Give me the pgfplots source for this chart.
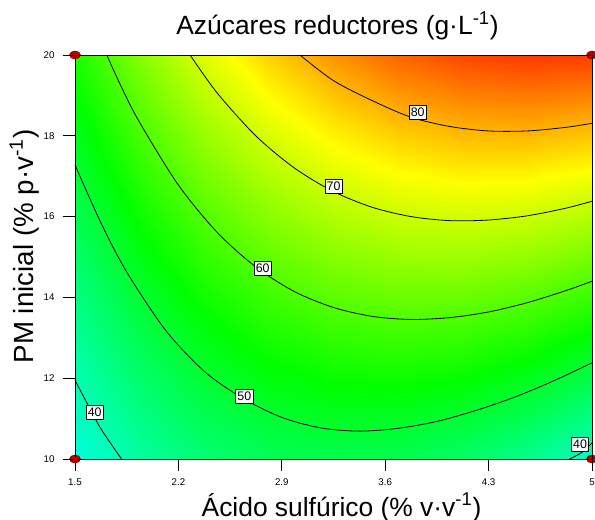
\documentclass[border=0pt]{standalone}
\usepackage{pgfplots}
\pgfplotsset{compat=1.18}
\usepackage{pgfplotstable}
\usepackage{fontspec}
\setmainfont{Liberation Sans}

\tikzset{lbl/.style={draw=black, fill=white, line width=0.5pt, inner xsep=1.3pt, inner ysep=2pt, font=\fontsize{9.3}{10}\selectfont}}

% response read off the colour field, on a 9 x 9 grid
\pgfplotstableread{
x y z
1.5 10 36.64
1.9375 10 41.28
2.375 10 44.67
2.8125 10 46.79
3.25 10 47.65
3.6875 10 47.25
4.125 10 45.60
4.5625 10 42.68
5 10 38.50
1.5 11.25 38.71
1.9375 11.25 43.84
2.375 11.25 47.71
2.8125 11.25 50.33
3.25 11.25 51.68
3.6875 11.25 51.77
4.125 11.25 50.61
4.5625 11.25 48.18
5 11.25 44.49
1.5 12.5 40.87
1.9375 12.5 46.49
2.375 12.5 50.85
2.8125 12.5 53.96
3.25 12.5 55.80
3.6875 12.5 56.38
4.125 12.5 55.71
4.5625 12.5 53.77
5 12.5 50.58
1.5 13.75 43.11
1.9375 13.75 49.23
2.375 13.75 54.08
2.8125 13.75 57.68
3.25 13.75 60.01
3.6875 13.75 61.08
4.125 13.75 60.90
4.5625 13.75 59.45
5 13.75 56.75
1.5 15 45.44
1.9375 15 52.05
2.375 15 57.39
2.8125 15 61.48
3.25 15 64.30
3.6875 15 65.87
4.125 15 66.17
4.5625 15 65.22
5 15 63.00
1.5 16.25 47.86
1.9375 16.25 54.95
2.375 16.25 60.79
2.8125 16.25 65.36
3.25 16.25 68.68
3.6875 16.25 70.74
4.125 16.25 71.53
4.5625 16.25 71.07
5 16.25 69.34
1.5 17.5 50.37
1.9375 17.5 57.95
2.375 17.5 64.28
2.8125 17.5 69.34
3.25 17.5 73.15
3.6875 17.5 75.70
4.125 17.5 76.98
4.5625 17.5 77.01
5 17.5 75.78
1.5 18.75 52.96
1.9375 18.75 61.04
2.375 18.75 67.86
2.8125 18.75 73.41
3.25 18.75 77.71
3.6875 18.75 80.75
4.125 18.75 82.52
4.5625 18.75 83.04
5 18.75 82.30
1.5 20 55.64
1.9375 20 64.21
2.375 20 71.52
2.8125 20 77.56
3.25 20 82.35
3.6875 20 85.88
4.125 20 88.15
4.5625 20 89.15
5 20 88.90
}\grid

\begin{document}
\begin{tikzpicture}
\begin{axis}[
    scale only axis, width=387.75pt, height=303pt,
    xmin=1.5, xmax=5, ymin=10, ymax=20,
    xtick={1.5,2.2,2.9,3.6,4.3,5}, xticklabels={1.5,2.2,2.9,3.6,4.3,5},
    ytick={10,12,14,16,18,20}, yticklabels={10,12,14,16,18,20},
    tick align=outside, xtick pos=bottom, ytick pos=left,
    major tick length=9pt,
    tick style={black, line width=0.6pt},
    ticklabel style={font=\fontsize{7.3}{8}\selectfont},
    xticklabel style={yshift=-2.3pt},
    yticklabel style={xshift=-2.8pt},
    axis line style={black, line width=0.7pt},
    set layers=axis on top,
    clip=false,
    colormap={de}{rgb255(15pt)=(0,0,255) rgb255(34pt)=(0,255,255) rgb255(53.5pt)=(0,255,0) rgb255(74pt)=(255,255,0) rgb255(93.5pt)=(255,0,0)},
    point meta min=15, point meta max=93.5,
    title={Azúcares reductores (g·L\textsuperscript{-1})},
    title style={at={(axis description cs:0.5,1)}, anchor=base, xshift=3pt, yshift=9.4pt, font=\fontsize{19.8}{24}\selectfont},
    xlabel={Ácido sulfúrico (\% v·v\textsuperscript{-1})},
    xlabel style={at={(axis description cs:0.5,0)}, anchor=base, xshift=6pt, yshift=-42.75pt, font=\fontsize{19.8}{24}\selectfont},
    ylabel={PM inicial (\% p·v\textsuperscript{-1})},
    ylabel style={at={(axis description cs:-0.0812,0.526)}, anchor=base, font=\fontsize{20.8}{25}\selectfont},
]
\addplot[surf, shader=interp, mesh/cols=9, point meta=explicit] table[x=x, y=y, meta=z] {\grid};

% contour lines (80, 70, 60, 50, 40, 40)
\addplot[black, line width=0.6pt, smooth] coordinates {(3.0225,20) (3.25,19.365) (3.5125,18.87) (3.775,18.46) (4.0375,18.23) (4.30,18.12) (4.5625,18.12) (4.825,18.21) (5,18.31)};
\addplot[black, line width=0.6pt, smooth] coordinates {(2.279,20) (2.4625,19.06) (2.725,17.995) (2.9875,17.197) (3.25,16.62) (3.5125,16.23) (3.775,16.0) (4.0375,15.90) (4.30,15.915) (4.5625,16.02) (4.825,16.21) (5,16.38)};
\addplot[black, line width=0.6pt, smooth] coordinates {(1.715,20) (1.815,19.2) (1.9375,18.33) (2.20,16.78) (2.4625,15.61) (2.725,14.75) (2.9875,14.14) (3.25,13.75) (3.5125,13.53) (3.775,13.454) (4.0375,13.50) (4.30,13.64) (4.5625,13.87) (4.825,14.17) (5,14.40)};
\addplot[black, line width=0.6pt, smooth] coordinates {(1.5,17.28) (1.675,15.85) (1.85,14.63) (2.1125,13.19) (2.375,12.17) (2.6375,11.5) (2.90,11.03) (3.1625,10.77) (3.425,10.69) (3.6875,10.76) (3.95,10.93) (4.2125,11.20) (4.475,11.53) (4.7375,11.93) (5,12.38)};
\addplot[black, line width=0.6pt, smooth] coordinates {(1.5,11.95) (1.5875,11.34) (1.675,10.75) (1.815,10)};
\addplot[black, line width=0.6pt, smooth] coordinates {(4.848,10) (4.93,10.16) (5,10.40)};

% design points
\addplot[on layer=axis foreground, only marks, mark=*, mark size=3pt,
  mark options={xscale=1.375, fill=red!72!black, draw=red!40!black, line width=0.4pt}]
  coordinates {(1.5,10) (1.5,20) (5,10) (5,20)};

\node[lbl] at (axis cs:3.82,18.58) {80};
\node[lbl] at (axis cs:3.25,16.75) {70};
\node[lbl] at (axis cs:2.771,14.73) {60};
\node[lbl] at (axis cs:2.646,11.55) {50};
\node[lbl] at (axis cs:1.633,11.15) {40};
\node[lbl] at (axis cs:4.919,10.37) {40};

\coordinate (ll) at (rel axis cs:0,0);
\coordinate (ur) at (rel axis cs:1,1);
\end{axis}
\pgfresetboundingbox
\path[use as bounding box] ([shift={(-56.25pt,-45.75pt)}]ll) rectangle ([shift={(2.25pt,41.25pt)}]ur);
\end{tikzpicture}
\end{document}
